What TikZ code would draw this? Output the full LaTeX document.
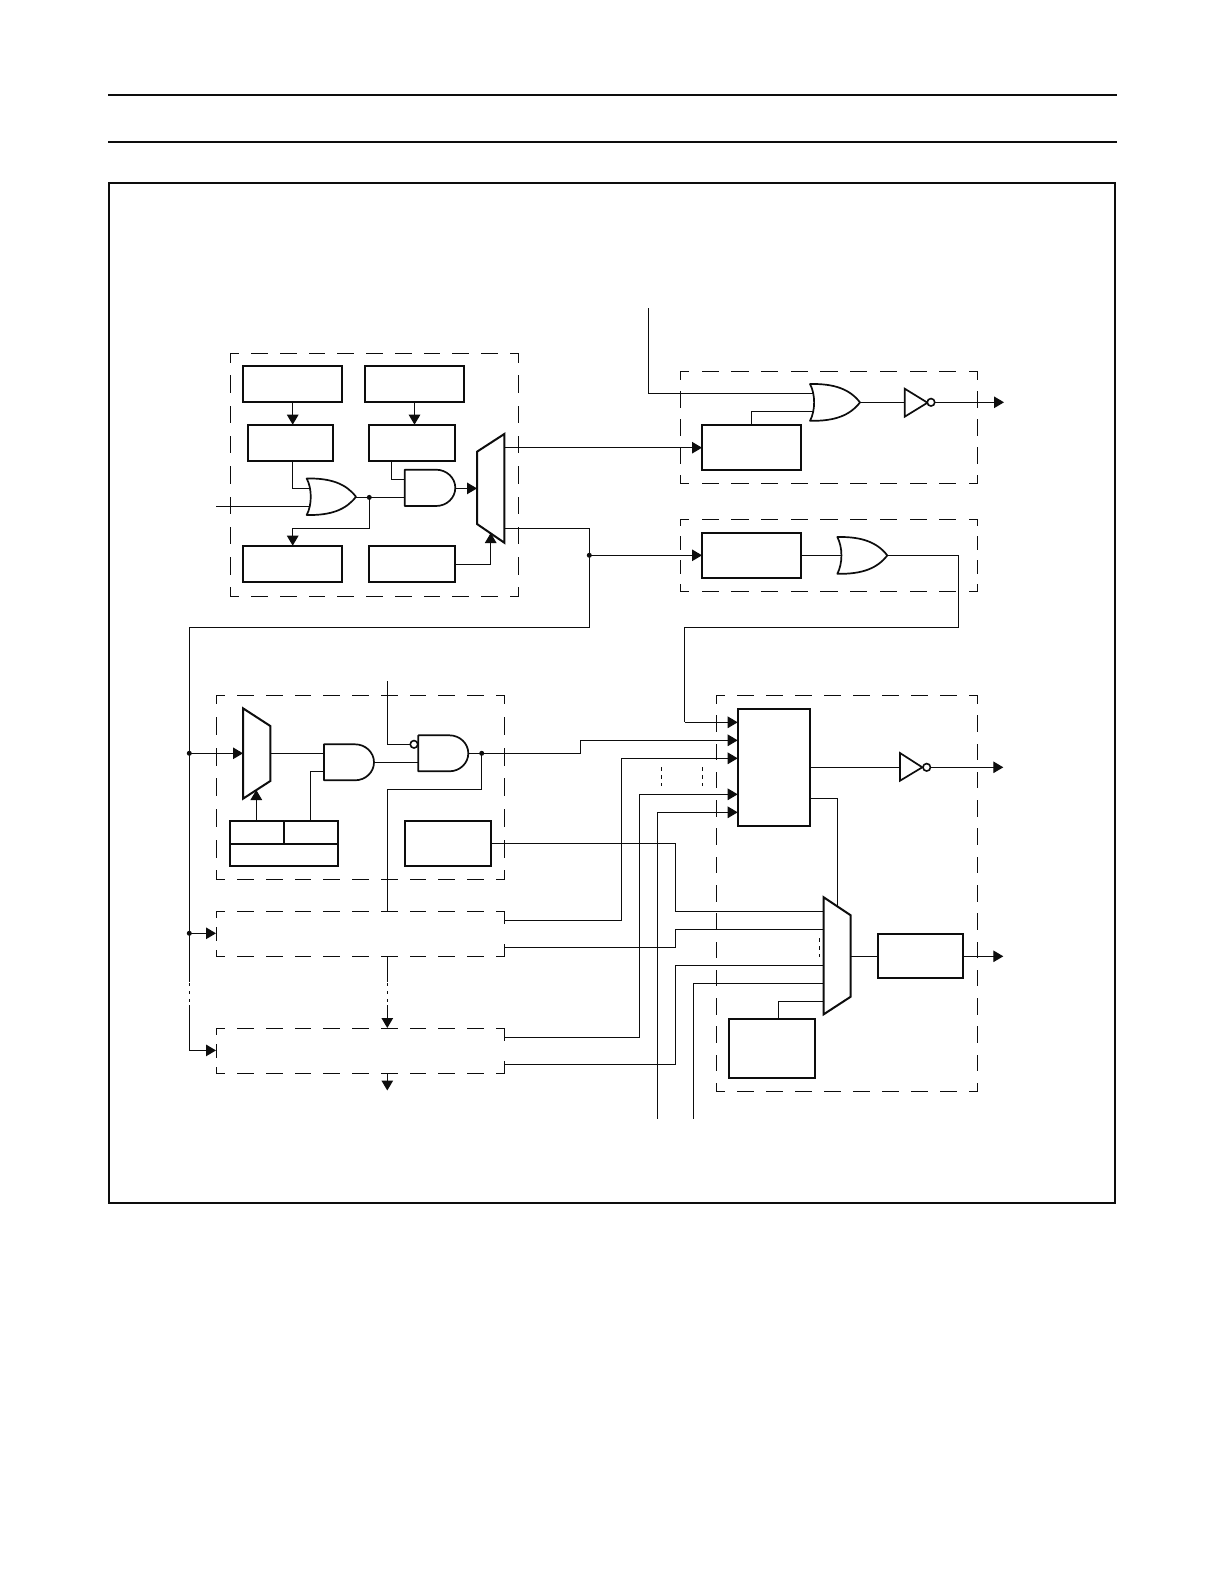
\documentclass[tikz,border=0pt]{standalone}
\usetikzlibrary{arrows.meta}
\definecolor{ink}{gray}{0.05}
\tikzset{
  wire/.style={draw=ink,line width=1.25pt},
  heavy/.style={draw=ink,line width=2.2pt,fill=white,line join=miter},
  gate/.style={draw=ink,line width=1.7pt,fill=white,line join=round},
  dashline/.style={draw=ink,line width=1.25pt,line cap=rect},
  into/.style={wire,-{Triangle[length=10pt,width=11.5pt,fill=ink]}},
  rule/.style={draw=ink,line width=2pt},
  frame/.style={draw=ink,line width=2pt},
  junction/.style={circle,fill=ink,inner sep=0pt,minimum size=5pt},
  bubble/.style={circle,draw=ink,line width=1.6pt,fill=white,inner sep=0pt,minimum size=7.5pt},
  tick/.style={draw=ink,line width=1pt,dash pattern=on 4pt off 4pt},
  gapline/.style={wire,dash pattern=on 3pt off 5pt},
  blockbox/.style={heavy,rectangle,inner sep=0pt,outer sep=0pt,anchor=north west},
}
% one dashed side with half dashes at both corners: x1,y1,x2,y2,number of periods
\newcommand{\dside}[5]{%
  \pgfmathsetmacro\dlen{veclen(#3-#1,#4-#2)}%
  \pgfmathsetmacro\dper{\dlen/#5}%
  \pgfmathsetmacro\don{\dper*0.54}%
  \pgfmathsetmacro\doff{\dper-\don}%
  \pgfmathsetmacro\dph{\don/2}%
  \path[dashline,dash pattern=on \don pt off \doff pt,dash phase=\dph pt] (#1,#2) -- (#3,#4);}
% dashed box with its periods per side
\newcommand{\dbox}[6]{%
  \dside{#1}{#2}{#3}{#2}{#5}%
  \dside{#1}{#4}{#3}{#4}{#5}%
  \dside{#1}{#2}{#1}{#4}{#6}%
  \dside{#3}{#2}{#3}{#4}{#6}}
% OR gate: left x, top y, width, height
\newcommand{\orgate}[4]{%
  \path[gate] (#1,#2) .. controls ({#1+0.5*#3},{#2-0.5}) and ({#1+0.8*#3},{#2+0.15*#4}) .. ({#1+#3},{#2+0.5*#4})
   .. controls ({#1+0.8*#3},{#2+0.85*#4}) and ({#1+0.5*#3},{#2+#4+0.5}) .. (#1,{#2+#4})
   .. controls ({#1+0.11*#3},{#2+0.72*#4}) and ({#1+0.11*#3},{#2+0.28*#4}) .. cycle;}
% AND gate: left x, top y, width, height
\newcommand{\andgate}[4]{%
  \path[gate] (#1,#2) -- ({#1+0.62*#3},#2) arc[start angle=-90,end angle=90,x radius={0.38*#3},y radius={0.5*#4}] -- (#1,{#2+#4}) -- cycle;}
\begin{document}
\begin{tikzpicture}[x=1pt,y=-1pt]
\useasboundingbox (0,0) rectangle (1224,1582);
\fill[white] (0,0) rectangle (1224,1582);

% page rules and frame
\coordinate (rA1) at (108,95); \coordinate (rA2) at (1117,95);
\coordinate (rB1) at (108,142); \coordinate (rB2) at (1117,142);
\draw[rule] (rA1) -- (rA2);
\draw[rule] (rB1) -- (rB2);
\draw[frame] (109,183) rectangle (1115,1203);

% dashed groups
\dbox{230.7}{353.7}{518.3}{596.3}{10}{8}
\dbox{680.7}{371.7}{977.5}{483.3}{10}{4}
\dbox{680.7}{519.3}{977.5}{591.3}{10}{3}
\dbox{216.7}{695.3}{504.3}{879.3}{10}{6}
\dside{216.7}{911.3}{504.3}{911.3}{10}
\dside{216.7}{956.3}{504.3}{956.3}{10}
\dside{216.7}{911.3}{216.7}{956.3}{2}
\dside{504.3}{911.3}{504.3}{956.3}{1}
\dside{216.7}{1028.7}{504.3}{1028.7}{10}
\dside{216.7}{1073.3}{504.3}{1073.3}{10}
\dside{216.7}{1028.7}{216.7}{1073.3}{2}
\dside{504.3}{1028.7}{504.3}{1073.3}{1}
\dbox{716.7}{695.3}{977.5}{1091.3}{9}{14}

% blocks
\node[blockbox,minimum width=99.6pt,minimum height=36.3pt] (A) at (242.7,365.7) {};
\node[blockbox,minimum width=99.3pt,minimum height=36.3pt] (B) at (365,365.7) {};
\node[blockbox,minimum width=85.6pt,minimum height=36.3pt] (C) at (247.7,424.7) {};
\node[blockbox,minimum width=86.3pt,minimum height=36.3pt] (D) at (369,424.7) {};
\node[blockbox,minimum width=99.6pt,minimum height=36.6pt] (E) at (242.7,545.7) {};
\node[blockbox,minimum width=86.3pt,minimum height=36.6pt] (F) at (369,545.7) {};
\node[blockbox,minimum width=99.3pt,minimum height=45.3pt] (G) at (702,424.7) {};
\node[blockbox,minimum width=99.3pt,minimum height=45pt] (H) at (702,533) {};
\node[blockbox,minimum width=108pt,minimum height=45.3pt] (T) at (230,820.7) {};
\node[blockbox,minimum width=86.3pt,minimum height=45.3pt] (J) at (405,820.7) {};
\node[blockbox,minimum width=72.6pt,minimum height=117.3pt] (K) at (737.7,708.7) {};
\node[blockbox,minimum width=85.6pt,minimum height=44.3pt] (L) at (877.7,934) {};
\node[blockbox,minimum width=86.6pt,minimum height=59pt] (M) at (728.7,1019) {};
\draw[heavy] (230,843.7) -- (338,843.7);
\draw[heavy] (284,820.7) -- (284,843.7);

% named points
\coordinate (dot1) at (369.3,497.4);
\coordinate (dot2) at (589.3,555.3);
\coordinate (bus1) at (189.3,753.3);
\coordinate (bus2) at (189.3,933.3);
\coordinate (dot3) at (481.7,753.3);
\coordinate (ctl) at (387.3,911.3);

% wires, top-left group
\draw[into] (292.7,402) -- (292.7,424.7);
\draw[into] (414.5,402) -- (414.5,424.7);
\draw[wire] (292.7,461) -- (292.7,488.3) -- (310,488.3);
\draw[wire] (216,506.4) -- (310,506.4);
\draw[wire] (356,497.4) -- (dot1) -- (404.7,497.4);
\draw[wire] (391.7,461) -- (391.7,479.3) -- (404.7,479.3);
\draw[into] (dot1) -- (369.3,528.3) -- (292.7,528.3) -- (292.7,545.7);
\draw[wire] (455.3,488.4) -- (470,488.4);
\draw[wire] (455.3,564.3) -- (490.7,564.3) -- (490.7,540);
\draw[into] (504.3,447.7) -- (702,447.7);
\draw[wire] (504.3,528.3) -- (589.3,528.3) -- (dot2) -- (589.3,627.3) -- (189.3,627.3) -- (bus1) -- (bus2) -- (189.3,982);
\draw[into] (dot2) -- (702,555.3);
\draw[gapline] (189.3,983) -- (189.3,1005);
\draw[into] (189.3,1005) -- (189.3,1050.4) -- (216,1050.4);

% wires, top-right
\draw[wire] (648.3,308) -- (648.3,393.3) -- (814,393.3);
\draw[wire] (751.3,424.7) -- (751.3,411.3) -- (814,411.3);
\draw[wire] (860,402.3) -- (904.7,402.3);
\draw[into] (934,402.3) -- (1004,402.3);
\draw[wire] (801.3,555.3) -- (841,555.3);
\draw[wire] (887.3,555.3) -- (958.7,555.3) -- (958.7,627.3) -- (684.7,627.3) -- (684.7,722.3);
\draw[into] (684.7,722.3) -- (737.7,722.3);

% wires, middle-left
\draw[wire] (270.3,753.3) -- (324,753.3);
\draw[wire] (310.3,820.7) -- (310.3,771.3) -- (324,771.3);
\draw[wire] (374,762.3) -- (418.3,762.3);
\draw[wire] (387.3,681) -- (387.3,744.3) -- (410.5,744.3);
\draw[wire] (468.3,753.3) -- (dot3) -- (580.7,753.3) -- (580.7,740.3);
\draw[into] (580.7,740.3) -- (737.7,740.3);
\draw[wire] (dot3) -- (481.7,789.3) -- (387.3,789.3) -- (ctl);
\draw[into] (bus2) -- (216,933.3);
\draw[wire] (387.3,956.3) -- (387.3,982);
\draw[gapline] (387.3,983) -- (387.3,1005);
\draw[into] (387.3,1005) -- (387.3,1028);
\draw[into] (387.3,1073.3) -- (387.3,1090.5);

% wires into the big block
\draw[into] (504.3,920.3) -- (621.3,920.3) -- (621.3,758.3) -- (737.7,758.3);
\draw[into] (504.3,1037.3) -- (639.3,1037.3) -- (639.3,794.3) -- (737.7,794.3);
\draw[into] (657.3,1118.7) -- (657.3,812.3) -- (737.7,812.3);
\draw[tick] (661.3,767.3) -- (661.3,786);
\draw[tick] (702.3,767.3) -- (702.3,786);

% wires into the lower mux
\draw[wire] (491.3,843.7) -- (675.3,843.7) -- (675.3,911.3) -- (824,911.3);
\draw[wire] (504.3,947.3) -- (675.3,947.3) -- (675.3,929.3) -- (824,929.3);
\draw[wire] (504.3,1064.3) -- (675.3,1064.3) -- (675.3,965.3) -- (824,965.3);
\draw[wire] (693.3,1118.7) -- (693.3,983.3) -- (824,983.3);
\draw[wire] (778.3,1019) -- (778.3,1001.3) -- (824,1001.3);
\draw[wire] (810.3,798.3) -- (837.3,798.3) -- (837.3,906);
\draw[tick] (819.3,938.3) -- (819.3,956.7);
\draw[wire] (810.3,767.3) -- (900,767.3);
\draw[into] (930.5,767.3) -- (1003.3,767.3);
\draw[wire] (850.7,956.3) -- (877.7,956.3);
\draw[into] (963.3,956.3) -- (1003.3,956.3);

% muxes
\path[gate,line width=2pt,line join=miter] (477,451.7) -- (504.3,434) -- (504.3,542.7) -- (477,524) -- cycle;
\path[gate,line width=2pt,line join=miter] (243,708.3) -- (270.3,726) -- (270.3,781) -- (243,798.7) -- cycle;
\path[gate,line width=2pt,line join=miter] (823.7,897.3) -- (850.7,915.3) -- (850.7,996.7) -- (823.7,1014.3) -- cycle;
% arrows ending on the mux edges, drawn over them
\draw[into] (455.3,488.4) -- (477,488.4);
\draw[into] (490.7,545) -- (490.7,533);
\draw[into] (256.3,820.7) -- (256.3,790);
\draw[into] (bus1) -- (243,753.3);

% gates
\orgate{306.7}{478.5}{49.3}{36.5}
\andgate{404.7}{469.7}{50.6}{36.3}
\orgate{810}{384}{50}{36.8}
\orgate{837.3}{537}{50}{36.8}
\andgate{324}{744.3}{50}{36}
\andgate{418.3}{735.3}{50}{36}
\path[gate,line join=miter] (904.7,388.7) -- (927.5,402.7) -- (904.7,416.7) -- cycle;
\path[gate,line join=miter] (900,753) -- (922.3,767.3) -- (900,780.7) -- cycle;
\node[bubble] (b1) at (931,402.3) {};
\node[bubble] (b2) at (926.7,767.3) {};
\node[bubble] (b3) at (414,744.3) {};

% junction dots
\node[junction] (j1) at (dot1) {};
\node[junction] (j2) at (dot2) {};
\node[junction] (j3) at (bus1) {};
\node[junction] (j4) at (bus2) {};
\node[junction] (j5) at (dot3) {};
\end{tikzpicture}
\end{document}
